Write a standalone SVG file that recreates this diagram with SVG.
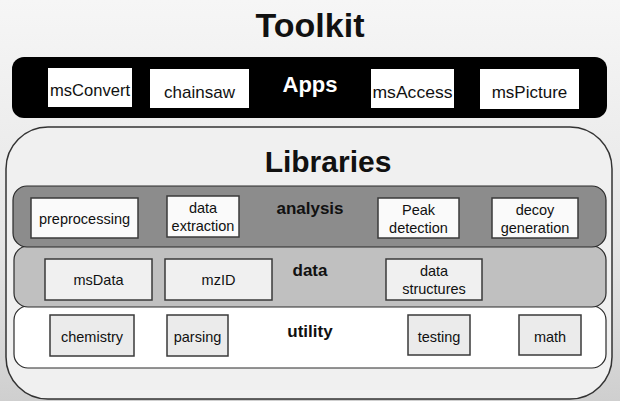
<svg xmlns="http://www.w3.org/2000/svg" width="620" height="401" viewBox="0 0 620 401">
<defs>
<linearGradient id="bg" x1="0" y1="0" x2="0" y2="1">
<stop offset="0" stop-color="#f6f6f6"/>
<stop offset="0.6" stop-color="#e6e6e6"/>
<stop offset="1" stop-color="#cfcfcf"/>
</linearGradient>
</defs>
<style>
text{font-family:"Liberation Sans",Arial,sans-serif;text-anchor:middle;fill:#111}
.title{font-weight:bold}
.app{fill:#fff;stroke:none}
.appt{font-size:17px}
.box{stroke:#3a3a3a;stroke-width:1.5}
.lbl{font-size:14.5px}
.band{stroke:#2a2a2a;stroke-width:1.2}
.bandt{font-size:17px;font-weight:bold}
</style>
<rect x="0" y="0" width="620" height="401" fill="url(#bg)"/>
<text class="title" x="310" y="37" font-size="34">Toolkit</text>

<g id="apps">
<rect x="12" y="57" width="595" height="61" rx="12" fill="#000"/>
<text class="title" x="310" y="92" font-size="22" style="fill:#fff">Apps</text>
</g>
<g id="msConvert"><rect class="app" x="48" y="68" width="84" height="39"/><text class="appt" x="90" y="96" textLength="80" lengthAdjust="spacingAndGlyphs">msConvert</text></g>
<g id="chainsaw"><rect class="app" x="150" y="69" width="99" height="39"/><text class="appt" x="199.5" y="98">chainsaw</text></g>
<g id="msAccess"><rect class="app" x="371" y="69" width="83" height="39"/><text class="appt" x="412.5" y="98" textLength="80" lengthAdjust="spacingAndGlyphs">msAccess</text></g>
<g id="msPicture"><rect class="app" x="480" y="69" width="99" height="40"/><text class="appt" x="529.5" y="98">msPicture</text></g>

<g id="libraries">
<rect x="6" y="127" width="606" height="272" rx="42" fill="#f0f0f0" stroke="#333" stroke-width="1.5"/>
<text class="title" x="328" y="172" font-size="30">Libraries</text>
</g>

<g id="utility">
<rect class="band" x="14" y="306" width="592" height="62" rx="14" fill="#fff"/>
<text class="bandt" x="310" y="337">utility</text>
</g>
<g id="data">
<rect class="band" x="14" y="246" width="592" height="61" rx="14" fill="#c0c0c0"/>
<text class="bandt" x="310" y="276">data</text>
</g>
<g id="analysis">
<rect class="band" x="13" y="186" width="593" height="61" rx="14" fill="#8c8c8c"/>
<text class="bandt" x="310" y="214">analysis</text>
</g>

<g id="preprocessing"><rect class="box" x="31" y="198" width="107" height="40" fill="#fafafa"/><text class="lbl" x="84.5" y="224">preprocessing</text></g>
<g id="data-extraction"><rect class="box" x="167" y="196" width="72" height="41" fill="#fafafa"/><text class="lbl" x="203" y="213">data</text><text class="lbl" x="203" y="231">extraction</text></g>
<g id="peak-detection"><rect class="box" x="378" y="198" width="81" height="40" fill="#fafafa"/><text class="lbl" x="418.5" y="215">Peak</text><text class="lbl" x="418.5" y="233">detection</text></g>
<g id="decoy-generation"><rect class="box" x="492" y="198" width="86" height="40" fill="#fafafa"/><text class="lbl" x="535" y="215">decoy</text><text class="lbl" x="535" y="233">generation</text></g>

<g id="msData"><rect class="box" x="45" y="259" width="107" height="41" fill="#f0f0f0"/><text class="lbl" x="98.5" y="285">msData</text></g>
<g id="mzID"><rect class="box" x="165" y="259" width="107" height="41" fill="#f0f0f0"/><text class="lbl" x="218.5" y="285">mzID</text></g>
<g id="data-structures"><rect class="box" x="386" y="259" width="96" height="41" fill="#f0f0f0"/><text class="lbl" x="434" y="276">data</text><text class="lbl" x="434" y="294">structures</text></g>

<g id="chemistry"><rect class="box" x="50" y="315" width="84" height="41" fill="#ebebeb"/><text class="lbl" x="92" y="342">chemistry</text></g>
<g id="parsing"><rect class="box" x="167" y="315" width="61" height="41" fill="#ebebeb"/><text class="lbl" x="197.5" y="342">parsing</text></g>
<g id="testing"><rect class="box" x="408" y="315" width="62" height="40" fill="#ebebeb"/><text class="lbl" x="439" y="342">testing</text></g>
<g id="math"><rect class="box" x="519" y="315" width="62" height="40" fill="#ebebeb"/><text class="lbl" x="550" y="342">math</text></g>

<g id="connectors"></g>
</svg>
